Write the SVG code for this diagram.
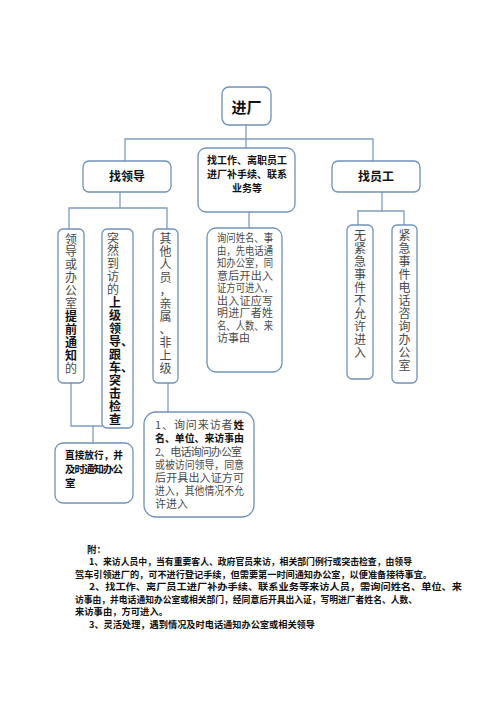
<svg xmlns="http://www.w3.org/2000/svg" width="496" height="702" viewBox="0 0 496 702">
<style>
.box{fill:#fff;stroke:#6f91b8;stroke-width:1.3}
.ln{fill:none;stroke:#7d9dc2;stroke-width:1.3}
text{font-family:"Noto Sans CJK SC","Noto Sans",sans-serif}
.t{fill:#4a4a4a;font-size:12px}
.tb{fill:#111;font-size:12px;font-weight:bold}
.s{fill:#4a4a4a;font-size:11px}
.sb{fill:#111;font-size:10.5px;font-weight:bold}
.h{fill:#111;font-weight:bold;text-anchor:middle}
.f{fill:#111;font-size:9.5px;font-weight:bold}
.c{text-anchor:middle}
</style>
<rect width="496" height="702" fill="#fff"/>
<g id="connectors">
<path class="ln" d="M246 125V148M125 161V139H373V161"/>
<path class="ln" d="M120 192V208M69 229V208H167V229"/>
<path class="ln" d="M382 192V211M358 225V211H404V225"/>
<path class="ln" d="M249 212V228"/>
<path class="ln" d="M71 383V426H102M93 426V443"/>
<path class="ln" d="M168 383V412"/>
</g>
<g id="n-jinchang">
<rect class="box" x="222" y="87" width="49" height="38" rx="7"/>
<text class="h" x="246.5" y="112.5" font-size="15">进厂</text>
</g>
<g id="n-zhaolingdao">
<rect class="box" x="83" y="161" width="88" height="31" rx="6"/>
<text class="h" x="127" y="181" font-size="12">找领导</text>
</g>
<g id="n-zhaogongzuo">
<rect class="box" x="198" y="148" width="97" height="64" rx="8"/>
<text class="h" x="247" y="164" font-size="10">找工作、离职员工</text>
<text class="h" x="247" y="178" font-size="10">进厂补手续、联系</text>
<text class="h" x="247" y="192" font-size="10">业务等</text>
</g>
<g id="n-zhaoyuangong">
<rect class="box" x="332" y="161" width="88" height="31" rx="6"/>
<text class="h" x="376" y="181" font-size="12">找员工</text>
</g>
<g id="n-l1">
<rect class="box" x="58" y="229" width="26" height="154" rx="5"/>
<text class="c" x="71"><tspan class="t" x="71" y="243.5">领</tspan><tspan class="t" x="71" y="256.4">导</tspan><tspan class="t" x="71" y="269.3">或</tspan><tspan class="t" x="71" y="282.2">办</tspan><tspan class="t" x="71" y="295.1">公</tspan><tspan class="t" x="71" y="308">室</tspan><tspan class="tb" x="71" y="320.9">提</tspan><tspan class="tb" x="71" y="333.8">前</tspan><tspan class="tb" x="71" y="346.7">通</tspan><tspan class="tb" x="71" y="359.6">知</tspan><tspan class="t" x="71" y="372.5">的</tspan></text>
</g>
<g id="n-l2">
<rect class="box" x="102" y="229" width="31" height="199" rx="5"/>
<text x="108"><tspan class="t" x="107" y="242.5">突</tspan><tspan class="t" x="107" y="255.4">然</tspan><tspan class="t" x="107" y="268.4">到</tspan><tspan class="t" x="107" y="281.3">访</tspan><tspan class="t" x="107" y="294.2">的</tspan><tspan class="tb" x="109" y="307.1">上</tspan><tspan class="tb" x="109" y="320.1">级</tspan><tspan class="tb" x="109" y="333">领</tspan><tspan class="tb" x="109" y="345.9">导、</tspan><tspan class="tb" x="109" y="358.9">跟</tspan><tspan class="tb" x="109" y="371.8">车、</tspan><tspan class="tb" x="109" y="384.7">突</tspan><tspan class="tb" x="109" y="397.7">击</tspan><tspan class="tb" x="109" y="410.6">检</tspan><tspan class="tb" x="109" y="423.5">查</tspan></text>
</g>
<g id="n-l3">
<rect class="box" x="153" y="229" width="25" height="154" rx="5"/>
<text class="t c"><tspan x="165.5" y="242.5">其</tspan><tspan x="165.5" y="255.5">他</tspan><tspan x="165.5" y="268.5">人</tspan><tspan x="165.5" y="281.5">员</tspan><tspan x="165.5" y="294.5">，</tspan><tspan x="165.5" y="307.5">亲</tspan><tspan x="165.5" y="320.5">属</tspan><tspan x="165.5" y="333.5">、</tspan><tspan x="165.5" y="346.5">非</tspan><tspan x="165.5" y="359.5">上</tspan><tspan x="165.5" y="372.5">级</tspan></text>
</g>
<g id="n-mid">
<rect class="box" x="207" y="228" width="75" height="144" rx="9"/>
<text class="s"><tspan x="217" y="242" textLength="56" lengthAdjust="spacingAndGlyphs">询问姓名、事</tspan><tspan x="217" y="254.5" textLength="56" lengthAdjust="spacingAndGlyphs">由，先电话通</tspan><tspan x="217" y="267" textLength="56" lengthAdjust="spacingAndGlyphs">知办公室，同</tspan><tspan x="217" y="279.5" textLength="56">意后开出入</tspan><tspan x="217" y="292" textLength="56" lengthAdjust="spacingAndGlyphs">证方可进入，</tspan><tspan x="217" y="304.5" textLength="56">出入证应写</tspan><tspan x="217" y="317" textLength="56">明进厂者姓</tspan><tspan x="217" y="329.5" textLength="56" lengthAdjust="spacingAndGlyphs">名、人数、来</tspan><tspan x="217" y="342">访事由</tspan></text>
</g>
<g id="n-r1">
<rect class="box" x="347" y="225" width="26" height="154" rx="5"/>
<text class="t c"><tspan x="360" y="239.5">无</tspan><tspan x="360" y="252.5">紧</tspan><tspan x="360" y="265.5">急</tspan><tspan x="360" y="278.5">事</tspan><tspan x="360" y="291.5">件</tspan><tspan x="360" y="304.5">不</tspan><tspan x="360" y="317.5">允</tspan><tspan x="360" y="330.5">许</tspan><tspan x="360" y="343.5">进</tspan><tspan x="360" y="356.5">入</tspan></text>
</g>
<g id="n-r2">
<rect class="box" x="392" y="225" width="25" height="158" rx="5"/>
<text class="t c"><tspan x="404.5" y="239.5">紧</tspan><tspan x="404.5" y="252.5">急</tspan><tspan x="404.5" y="265.5">事</tspan><tspan x="404.5" y="278.5">件</tspan><tspan x="404.5" y="291.5">电</tspan><tspan x="404.5" y="304.5">话</tspan><tspan x="404.5" y="317.5">咨</tspan><tspan x="404.5" y="330.5">询</tspan><tspan x="404.5" y="343.5">办</tspan><tspan x="404.5" y="356.5">公</tspan><tspan x="404.5" y="369.5">室</tspan></text>
</g>
<g id="n-direct">
<rect class="box" x="55" y="443" width="78" height="60" rx="8"/>
<text class="sb"><tspan x="65" y="459" textLength="58" lengthAdjust="spacingAndGlyphs">直接放行，并</tspan><tspan x="65" y="473" textLength="58">及时通知办公</tspan><tspan x="65" y="486.5">室</tspan></text>
</g>
<g id="n-ask">
<rect class="box" x="144" y="412" width="110" height="105" rx="12"/>
<text class="s"><tspan x="155" y="429" textLength="89" lengthAdjust="spacing">1、询问来访者<tspan class="sb">姓</tspan></tspan></text>
<text class="sb" x="155" y="442" textLength="89" lengthAdjust="spacingAndGlyphs">名、单位、来访事由</text>
<text class="s"><tspan x="155" y="456" textLength="87" lengthAdjust="spacing">2、电话询问办公室</tspan><tspan x="155" y="469" textLength="89" lengthAdjust="spacingAndGlyphs">或被访问领导，同意</tspan><tspan x="155" y="482" textLength="89" lengthAdjust="spacing">后开具出入证方可</tspan><tspan x="155" y="495" textLength="89" lengthAdjust="spacingAndGlyphs">进入，其他情况不允</tspan><tspan x="155" y="508">许进入</tspan></text>
</g>
<g id="footer">
<text class="f" x="87" y="552.5">附：</text>
<text class="f" x="89" y="565" textLength="323" lengthAdjust="spacingAndGlyphs">1、来访人员中，当有重要客人、政府官员来访，相关部门例行或突击检查，由领导</text>
<text class="f" x="75" y="577.5" textLength="357" lengthAdjust="spacingAndGlyphs">驾车引领进厂的，可不进行登记手续，但需要第一时间通知办公室，以便准备接待事宜。</text>
<text class="f" x="89" y="590" textLength="373" lengthAdjust="spacingAndGlyphs">2、找工作、离厂员工进厂补办手续、联系业务等来访人员，需询问姓名、单位、来</text>
<text class="f" x="75" y="602.5" textLength="342" lengthAdjust="spacingAndGlyphs">访事由，并电话通知办公室或相关部门，经同意后开具出入证，写明进厂者姓名、人数、</text>
<text class="f" x="75" y="615" textLength="93" lengthAdjust="spacingAndGlyphs">来访事由，方可进入。</text>
<text class="f" x="89" y="627.5" textLength="226" lengthAdjust="spacingAndGlyphs">3、灵活处理，遇到情况及时电话通知办公室或相关领导</text>
</g>
</svg>
